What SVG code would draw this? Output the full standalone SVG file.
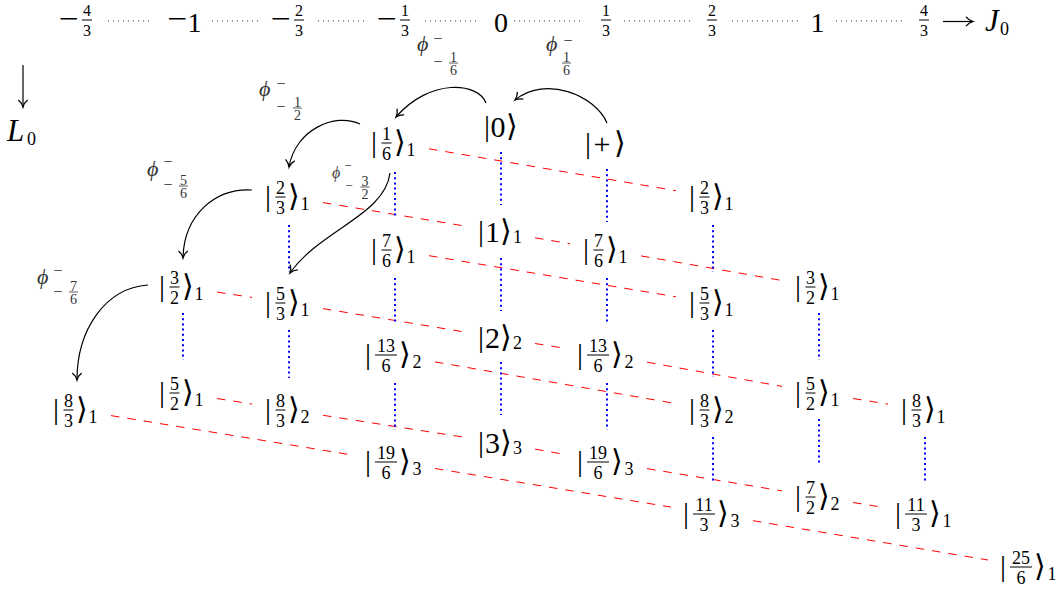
<svg xmlns="http://www.w3.org/2000/svg" width="1064" height="593" viewBox="0 0 1064 593">
<defs>
<style>
.t{font-family:"Liberation Serif",serif;fill:#000}
.k{font-size:30px;text-anchor:middle}
.ang{font-family:"DejaVu Sans","Noto Sans",sans-serif;font-size:30px;font-weight:200}
.fd{font-size:18px;text-anchor:middle}
.sb{font-size:18px;text-anchor:middle}
.md{font-size:30px;text-anchor:middle}
.ad{font-size:28px;text-anchor:middle}
.af{font-size:16px;text-anchor:middle}
.it{font-style:italic}
.fl{stroke:#000;stroke-width:1}
.red{stroke:#ff0000;stroke-width:1;stroke-dasharray:8.5 8;fill:none}
.blue{stroke:#0000ff;stroke-width:2;stroke-dasharray:2 3.2;fill:none}
.ax{stroke:#333;stroke-width:1;stroke-dasharray:1 4;fill:none}
.arr{fill:none;stroke:#000;stroke-width:1.2;marker-end:url(#ah)}
.lb{fill:#333}
.phi{font-size:22px;font-style:italic}
.lm{font-size:16px;text-anchor:middle}
.lf{font-size:14px;text-anchor:middle}
.fl2{stroke:#333;stroke-width:0.8}
</style>
<marker id="ah" markerUnits="userSpaceOnUse" markerWidth="14" markerHeight="14" viewBox="-8 -6 10 12" refX="0" refY="0" orient="auto" overflow="visible">
<path d="M-6,-4 C-4,-1.5 -1.5,-0.4 0,0 C-1.5,0.4 -4,1.5 -6,4" fill="none" stroke="#000" stroke-width="1.1"/>
</marker>
</defs>
<rect width="1064" height="593" fill="#fff"/>

<g id="axis">
<g id="ax-m43"><text class="t ad" x="69" y="28" textLength="20" lengthAdjust="spacingAndGlyphs">−</text><line class="fl" x1="82" x2="92" y1="20" y2="20"/><text class="t af" x="87" y="16">4</text><text class="t af" x="87" y="36">3</text></g>
<g id="ax-m1"><text class="t ad" x="177.5" y="28" textLength="20" lengthAdjust="spacingAndGlyphs">−</text><text class="t ad" x="194.5" y="32">1</text></g>
<g id="ax-m23"><text class="t ad" x="281" y="28" textLength="20" lengthAdjust="spacingAndGlyphs">−</text><line class="fl" x1="294" x2="304" y1="20" y2="20"/><text class="t af" x="299" y="16">2</text><text class="t af" x="299" y="36">3</text></g>
<g id="ax-m13"><text class="t ad" x="387" y="28" textLength="20" lengthAdjust="spacingAndGlyphs">−</text><line class="fl" x1="400" x2="410" y1="20" y2="20"/><text class="t af" x="405" y="16">1</text><text class="t af" x="405" y="36">3</text></g>
<g id="ax-0"><text class="t ad" x="501" y="32">0</text></g>
<g id="ax-13"><line class="fl" x1="601" x2="611" y1="20" y2="20"/><text class="t af" x="606" y="16">1</text><text class="t af" x="606" y="36">3</text></g>
<g id="ax-23"><line class="fl" x1="707" x2="717" y1="20" y2="20"/><text class="t af" x="712" y="16">2</text><text class="t af" x="712" y="36">3</text></g>
<g id="ax-1"><text class="t ad" x="817.5" y="32">1</text></g>
<g id="ax-43"><line class="fl" x1="919" x2="929" y1="20" y2="20"/><text class="t af" x="924" y="16">4</text><text class="t af" x="924" y="36">3</text></g>
<g id="ax-dots">
<line class="ax" x1="108" x2="153" y1="21" y2="21"/>
<line class="ax" x1="212" x2="258" y1="21" y2="21"/>
<line class="ax" x1="318" x2="365" y1="21" y2="21"/>
<line class="ax" x1="425" x2="480" y1="21" y2="21"/>
<line class="ax" x1="514" x2="582" y1="21" y2="21"/>
<line class="ax" x1="624" x2="690" y1="21" y2="21"/>
<line class="ax" x1="732" x2="798" y1="21" y2="21"/>
<line class="ax" x1="836" x2="902" y1="21" y2="21"/>
</g>
<path class="arr" d="M943,21.5 L973,21.5"/>
<g id="J0"><text class="t it" x="985" y="31" font-size="31">J</text><text class="t" x="1000" y="35" font-size="18">0</text></g>
<path class="arr" d="M23,65 L23,107"/>
<g id="L0"><text class="t it" x="7" y="141" font-size="31">L</text><text class="t" x="27" y="145" font-size="18">0</text></g>
</g>

<g id="connectors">
<g id="red-lines">
<line class="red" x1="429" y1="148.8" x2="676" y2="190.7"/>
<line class="red" x1="323" y1="202.6" x2="464" y2="225.9"/>
<line class="red" x1="535" y1="237.8" x2="570" y2="243.7"/>
<line class="red" x1="641" y1="255.9" x2="782" y2="280.5"/>
<line class="red" x1="429" y1="255.7" x2="676" y2="296.8"/>
<line class="red" x1="217" y1="292.1" x2="252" y2="297.4"/>
<line class="red" x1="323" y1="308.6" x2="464" y2="331.9"/>
<line class="red" x1="535" y1="343.5" x2="565" y2="348.3"/>
<line class="red" x1="647" y1="362.2" x2="782" y2="386.4"/>
<line class="red" x1="853" y1="398.5" x2="888" y2="404.1"/>
<line class="red" x1="435" y1="361.9" x2="676" y2="403.6"/>
<line class="red" x1="217" y1="398.5" x2="252" y2="404.1"/>
<line class="red" x1="323" y1="415.3" x2="464" y2="437.2"/>
<line class="red" x1="535" y1="449.1" x2="565" y2="454.5"/>
<line class="red" x1="647" y1="468.6" x2="782" y2="490.9"/>
<line class="red" x1="853" y1="502.5" x2="883" y2="507.3"/>
<line class="red" x1="111" y1="415.6" x2="353" y2="455.1"/>
<line class="red" x1="435" y1="468.5" x2="671" y2="507.1"/>
<line class="red" x1="753" y1="520.7" x2="988" y2="560"/>
</g>
<g id="blue-lines">
<line class="blue" x1="395" y1="172" x2="395" y2="218"/>
<line class="blue" x1="395" y1="278" x2="395" y2="322"/>
<line class="blue" x1="395" y1="383" x2="395" y2="430"/>
<line class="blue" x1="501" y1="152" x2="501" y2="205"/>
<line class="blue" x1="501" y1="258" x2="501" y2="311"/>
<line class="blue" x1="501" y1="362" x2="501" y2="415"/>
<line class="blue" x1="607" y1="169" x2="607" y2="222"/>
<line class="blue" x1="607" y1="278" x2="607" y2="323"/>
<line class="blue" x1="607" y1="383" x2="607" y2="430"/>
<line class="blue" x1="713" y1="225" x2="713" y2="272"/>
<line class="blue" x1="713" y1="330" x2="713" y2="377"/>
<line class="blue" x1="713" y1="437" x2="713" y2="483"/>
<line class="blue" x1="819" y1="313" x2="819" y2="360"/>
<line class="blue" x1="819" y1="419" x2="819" y2="465"/>
<line class="blue" x1="925" y1="437" x2="925" y2="483"/>
<line class="blue" x1="289" y1="225" x2="289" y2="272"/>
<line class="blue" x1="289" y1="330" x2="289" y2="378"/>
<line class="blue" x1="183" y1="313" x2="183" y2="360"/>
</g>
<g id="arrows">
<path class="arr" d="M486,103 C478,82 430,78 396,117"/>
<path class="arr" d="M607,123 C595,95 545,75 515,100"/>
<path class="arr" d="M360,124 C335,112 295,130 289,167"/>
<path class="arr" d="M252,190 C215,188 184,215 183,258"/>
<path class="arr" d="M148,285 C105,288 77,330 77,380"/>
<path class="arr" d="M390,173 C385,215 320,230 290,273"/>
</g>
</g>

<g id="lab-m16" transform="translate(417,63)"><text class="t lb phi" x="0" y="-12">ϕ</text><text class="t lb lm" x="21" y="-19">−</text><text class="t lb lm" x="21" y="4">−</text><line class="fl2" x1="32" x2="41" y1="0" y2="0"/><text class="t lb lf" x="36.5" y="-1.5">1</text><text class="t lb lf" x="36.5" y="11.5">6</text></g>
<g id="lab-16" transform="translate(546,63)"><text class="t lb phi" x="0" y="-12">ϕ</text><text class="t lb lm" x="22" y="-17">−</text><line class="fl2" x1="16" x2="25" y1="0" y2="0"/><text class="t lb lf" x="20.5" y="-1.5">1</text><text class="t lb lf" x="20.5" y="11.5">6</text></g>
<g id="lab-m12" transform="translate(259,108)"><text class="t lb phi" x="0" y="-12">ϕ</text><text class="t lb lm" x="22" y="-19">−</text><text class="t lb lm" x="22" y="4">−</text><line class="fl2" x1="34" x2="43" y1="0" y2="0"/><text class="t lb lf" x="38.5" y="-1.5">1</text><text class="t lb lf" x="38.5" y="11.5">2</text></g>
<g id="lab-m56" transform="translate(147,186)"><text class="t lb phi" x="0" y="-10">ϕ</text><text class="t lb lm" x="21" y="-19">−</text><text class="t lb lm" x="21" y="4">−</text><line class="fl2" x1="32" x2="41" y1="0" y2="0"/><text class="t lb lf" x="36.5" y="-1.5">5</text><text class="t lb lf" x="36.5" y="11.5">6</text></g>
<g id="lab-m32" transform="translate(332,187)"><text class="t lb" x="0" y="-9" font-size="16" font-style="italic">ϕ</text><text class="t lb" x="16" y="-17" font-size="13" text-anchor="middle">−</text><text class="t lb" x="17" y="3" font-size="13" text-anchor="middle">−</text><line class="fl2" x1="28.5" x2="37.5" y1="0" y2="0"/><text class="t lb lf" x="33" y="-1.5">3</text><text class="t lb lf" x="33" y="11.5">2</text></g>
<g id="lab-m76" transform="translate(37,292)"><text class="t lb phi" x="0" y="-8">ϕ</text><text class="t lb lm" x="21" y="-16">−</text><text class="t lb lm" x="21" y="5">−</text><line class="fl2" x1="32" x2="41" y1="0" y2="0"/><text class="t lb lf" x="36.5" y="-1.5">7</text><text class="t lb lf" x="36.5" y="11.5">6</text></g>

<g id="n-0" transform="translate(501,127)"><text class="t k" x="-14" y="8.5">|</text><text class="t md" x="-3" y="10">0</text><text class="t k ang" x="11" y="8.5">⟩</text></g>
<g id="n-plus" transform="translate(607,144)"><text class="t k" x="-19" y="8.5">|</text><text class="t md" x="-5" y="10">+</text><text class="t k ang" x="13" y="8.5">⟩</text></g>
<g id="n-1" transform="translate(501,232)"><text class="t k" x="-20" y="8.5">|</text><text class="t md" x="-8.5" y="10">1</text><text class="t k ang" x="5" y="8.5">⟩</text><text class="t sb" x="16.5" y="11">1</text></g>
<g id="n-2" transform="translate(501,338)"><text class="t k" x="-20" y="8.5">|</text><text class="t md" x="-8.5" y="10">2</text><text class="t k ang" x="5" y="8.5">⟩</text><text class="t sb" x="16.5" y="11">2</text></g>
<g id="n-3" transform="translate(501,443)"><text class="t k" x="-20" y="8.5">|</text><text class="t md" x="-8.5" y="10">3</text><text class="t k ang" x="5" y="8.5">⟩</text><text class="t sb" x="16.5" y="11">3</text></g>

<g id="n-1-6" transform="translate(395,143)"><text class="t k" x="-21" y="8.5">|</text><line class="fl" x1="-13.5" x2="-3.5" y1="0" y2="0"/><text class="t fd" x="-8.5" y="-3">1</text><text class="t fd" x="-8.5" y="17">6</text><text class="t k ang" x="4.5" y="8.5">⟩</text><text class="t sb" x="16" y="13">1</text></g>
<g id="n-2-3-a" transform="translate(289,197)"><text class="t k" x="-21" y="8.5">|</text><line class="fl" x1="-13.5" x2="-3.5" y1="0" y2="0"/><text class="t fd" x="-8.5" y="-3">2</text><text class="t fd" x="-8.5" y="17">3</text><text class="t k ang" x="4.5" y="8.5">⟩</text><text class="t sb" x="16" y="13">1</text></g>
<g id="n-2-3-b" transform="translate(713,197)"><text class="t k" x="-21" y="8.5">|</text><line class="fl" x1="-13.5" x2="-3.5" y1="0" y2="0"/><text class="t fd" x="-8.5" y="-3">2</text><text class="t fd" x="-8.5" y="17">3</text><text class="t k ang" x="4.5" y="8.5">⟩</text><text class="t sb" x="16" y="13">1</text></g>
<g id="n-7-6-a" transform="translate(395,250)"><text class="t k" x="-21" y="8.5">|</text><line class="fl" x1="-13.5" x2="-3.5" y1="0" y2="0"/><text class="t fd" x="-8.5" y="-3">7</text><text class="t fd" x="-8.5" y="17">6</text><text class="t k ang" x="4.5" y="8.5">⟩</text><text class="t sb" x="16" y="13">1</text></g>
<g id="n-7-6-b" transform="translate(607,250)"><text class="t k" x="-21" y="8.5">|</text><line class="fl" x1="-13.5" x2="-3.5" y1="0" y2="0"/><text class="t fd" x="-8.5" y="-3">7</text><text class="t fd" x="-8.5" y="17">6</text><text class="t k ang" x="4.5" y="8.5">⟩</text><text class="t sb" x="16" y="13">1</text></g>
<g id="n-3-2-a" transform="translate(183,287)"><text class="t k" x="-21" y="8.5">|</text><line class="fl" x1="-13.5" x2="-3.5" y1="0" y2="0"/><text class="t fd" x="-8.5" y="-3">3</text><text class="t fd" x="-8.5" y="17">2</text><text class="t k ang" x="4.5" y="8.5">⟩</text><text class="t sb" x="16" y="13">1</text></g>
<g id="n-3-2-b" transform="translate(819,287)"><text class="t k" x="-21" y="8.5">|</text><line class="fl" x1="-13.5" x2="-3.5" y1="0" y2="0"/><text class="t fd" x="-8.5" y="-3">3</text><text class="t fd" x="-8.5" y="17">2</text><text class="t k ang" x="4.5" y="8.5">⟩</text><text class="t sb" x="16" y="13">1</text></g>
<g id="n-5-3-a" transform="translate(289,303)"><text class="t k" x="-21" y="8.5">|</text><line class="fl" x1="-13.5" x2="-3.5" y1="0" y2="0"/><text class="t fd" x="-8.5" y="-3">5</text><text class="t fd" x="-8.5" y="17">3</text><text class="t k ang" x="4.5" y="8.5">⟩</text><text class="t sb" x="16" y="13">1</text></g>
<g id="n-5-3-b" transform="translate(713,303)"><text class="t k" x="-21" y="8.5">|</text><line class="fl" x1="-13.5" x2="-3.5" y1="0" y2="0"/><text class="t fd" x="-8.5" y="-3">5</text><text class="t fd" x="-8.5" y="17">3</text><text class="t k ang" x="4.5" y="8.5">⟩</text><text class="t sb" x="16" y="13">1</text></g>
<g id="n-8-3-a" transform="translate(77,410)"><text class="t k" x="-21" y="8.5">|</text><line class="fl" x1="-13.5" x2="-3.5" y1="0" y2="0"/><text class="t fd" x="-8.5" y="-3">8</text><text class="t fd" x="-8.5" y="17">3</text><text class="t k ang" x="4.5" y="8.5">⟩</text><text class="t sb" x="16" y="13">1</text></g>
<g id="n-5-2-a" transform="translate(183,393)"><text class="t k" x="-21" y="8.5">|</text><line class="fl" x1="-13.5" x2="-3.5" y1="0" y2="0"/><text class="t fd" x="-8.5" y="-3">5</text><text class="t fd" x="-8.5" y="17">2</text><text class="t k ang" x="4.5" y="8.5">⟩</text><text class="t sb" x="16" y="13">1</text></g>
<g id="n-8-3-b" transform="translate(289,410)"><text class="t k" x="-21" y="8.5">|</text><line class="fl" x1="-13.5" x2="-3.5" y1="0" y2="0"/><text class="t fd" x="-8.5" y="-3">8</text><text class="t fd" x="-8.5" y="17">3</text><text class="t k ang" x="4.5" y="8.5">⟩</text><text class="t sb" x="16" y="13">2</text></g>
<g id="n-8-3-c" transform="translate(713,410)"><text class="t k" x="-21" y="8.5">|</text><line class="fl" x1="-13.5" x2="-3.5" y1="0" y2="0"/><text class="t fd" x="-8.5" y="-3">8</text><text class="t fd" x="-8.5" y="17">3</text><text class="t k ang" x="4.5" y="8.5">⟩</text><text class="t sb" x="16" y="13">2</text></g>
<g id="n-5-2-b" transform="translate(819,393)"><text class="t k" x="-21" y="8.5">|</text><line class="fl" x1="-13.5" x2="-3.5" y1="0" y2="0"/><text class="t fd" x="-8.5" y="-3">5</text><text class="t fd" x="-8.5" y="17">2</text><text class="t k ang" x="4.5" y="8.5">⟩</text><text class="t sb" x="16" y="13">1</text></g>
<g id="n-8-3-d" transform="translate(925,410)"><text class="t k" x="-21" y="8.5">|</text><line class="fl" x1="-13.5" x2="-3.5" y1="0" y2="0"/><text class="t fd" x="-8.5" y="-3">8</text><text class="t fd" x="-8.5" y="17">3</text><text class="t k ang" x="4.5" y="8.5">⟩</text><text class="t sb" x="16" y="13">1</text></g>
<g id="n-7-2" transform="translate(819,497)"><text class="t k" x="-21" y="8.5">|</text><line class="fl" x1="-13.5" x2="-3.5" y1="0" y2="0"/><text class="t fd" x="-8.5" y="-3">7</text><text class="t fd" x="-8.5" y="17">2</text><text class="t k ang" x="4.5" y="8.5">⟩</text><text class="t sb" x="16" y="13">2</text></g>

<g id="n-13-6-a" transform="translate(395,355)"><text class="t k" x="-27" y="8.5">|</text><line class="fl" x1="-20" x2="2" y1="0" y2="0"/><text class="t fd" x="-9" y="-3">13</text><text class="t fd" x="-9" y="17">6</text><text class="t k ang" x="10" y="8.5">⟩</text><text class="t sb" x="22" y="13">2</text></g>
<g id="n-13-6-b" transform="translate(607,355)"><text class="t k" x="-27" y="8.5">|</text><line class="fl" x1="-20" x2="2" y1="0" y2="0"/><text class="t fd" x="-9" y="-3">13</text><text class="t fd" x="-9" y="17">6</text><text class="t k ang" x="10" y="8.5">⟩</text><text class="t sb" x="22" y="13">2</text></g>
<g id="n-19-6-a" transform="translate(395,462)"><text class="t k" x="-27" y="8.5">|</text><line class="fl" x1="-20" x2="2" y1="0" y2="0"/><text class="t fd" x="-9" y="-3">19</text><text class="t fd" x="-9" y="17">6</text><text class="t k ang" x="10" y="8.5">⟩</text><text class="t sb" x="22" y="13">3</text></g>
<g id="n-19-6-b" transform="translate(607,462)"><text class="t k" x="-27" y="8.5">|</text><line class="fl" x1="-20" x2="2" y1="0" y2="0"/><text class="t fd" x="-9" y="-3">19</text><text class="t fd" x="-9" y="17">6</text><text class="t k ang" x="10" y="8.5">⟩</text><text class="t sb" x="22" y="13">3</text></g>
<g id="n-11-3-a" transform="translate(713,514)"><text class="t k" x="-27" y="8.5">|</text><line class="fl" x1="-20" x2="2" y1="0" y2="0"/><text class="t fd" x="-9" y="-3">11</text><text class="t fd" x="-9" y="17">3</text><text class="t k ang" x="10" y="8.5">⟩</text><text class="t sb" x="22" y="13">3</text></g>
<g id="n-11-3-b" transform="translate(925,514)"><text class="t k" x="-27" y="8.5">|</text><line class="fl" x1="-20" x2="2" y1="0" y2="0"/><text class="t fd" x="-9" y="-3">11</text><text class="t fd" x="-9" y="17">3</text><text class="t k ang" x="10" y="8.5">⟩</text><text class="t sb" x="22" y="13">1</text></g>
<g id="n-25-6" transform="translate(1030,567)"><text class="t k" x="-27" y="8.5">|</text><line class="fl" x1="-20" x2="2" y1="0" y2="0"/><text class="t fd" x="-9" y="-3">25</text><text class="t fd" x="-9" y="17">6</text><text class="t k ang" x="10" y="8.5">⟩</text><text class="t sb" x="22" y="13">1</text></g>
</svg>
